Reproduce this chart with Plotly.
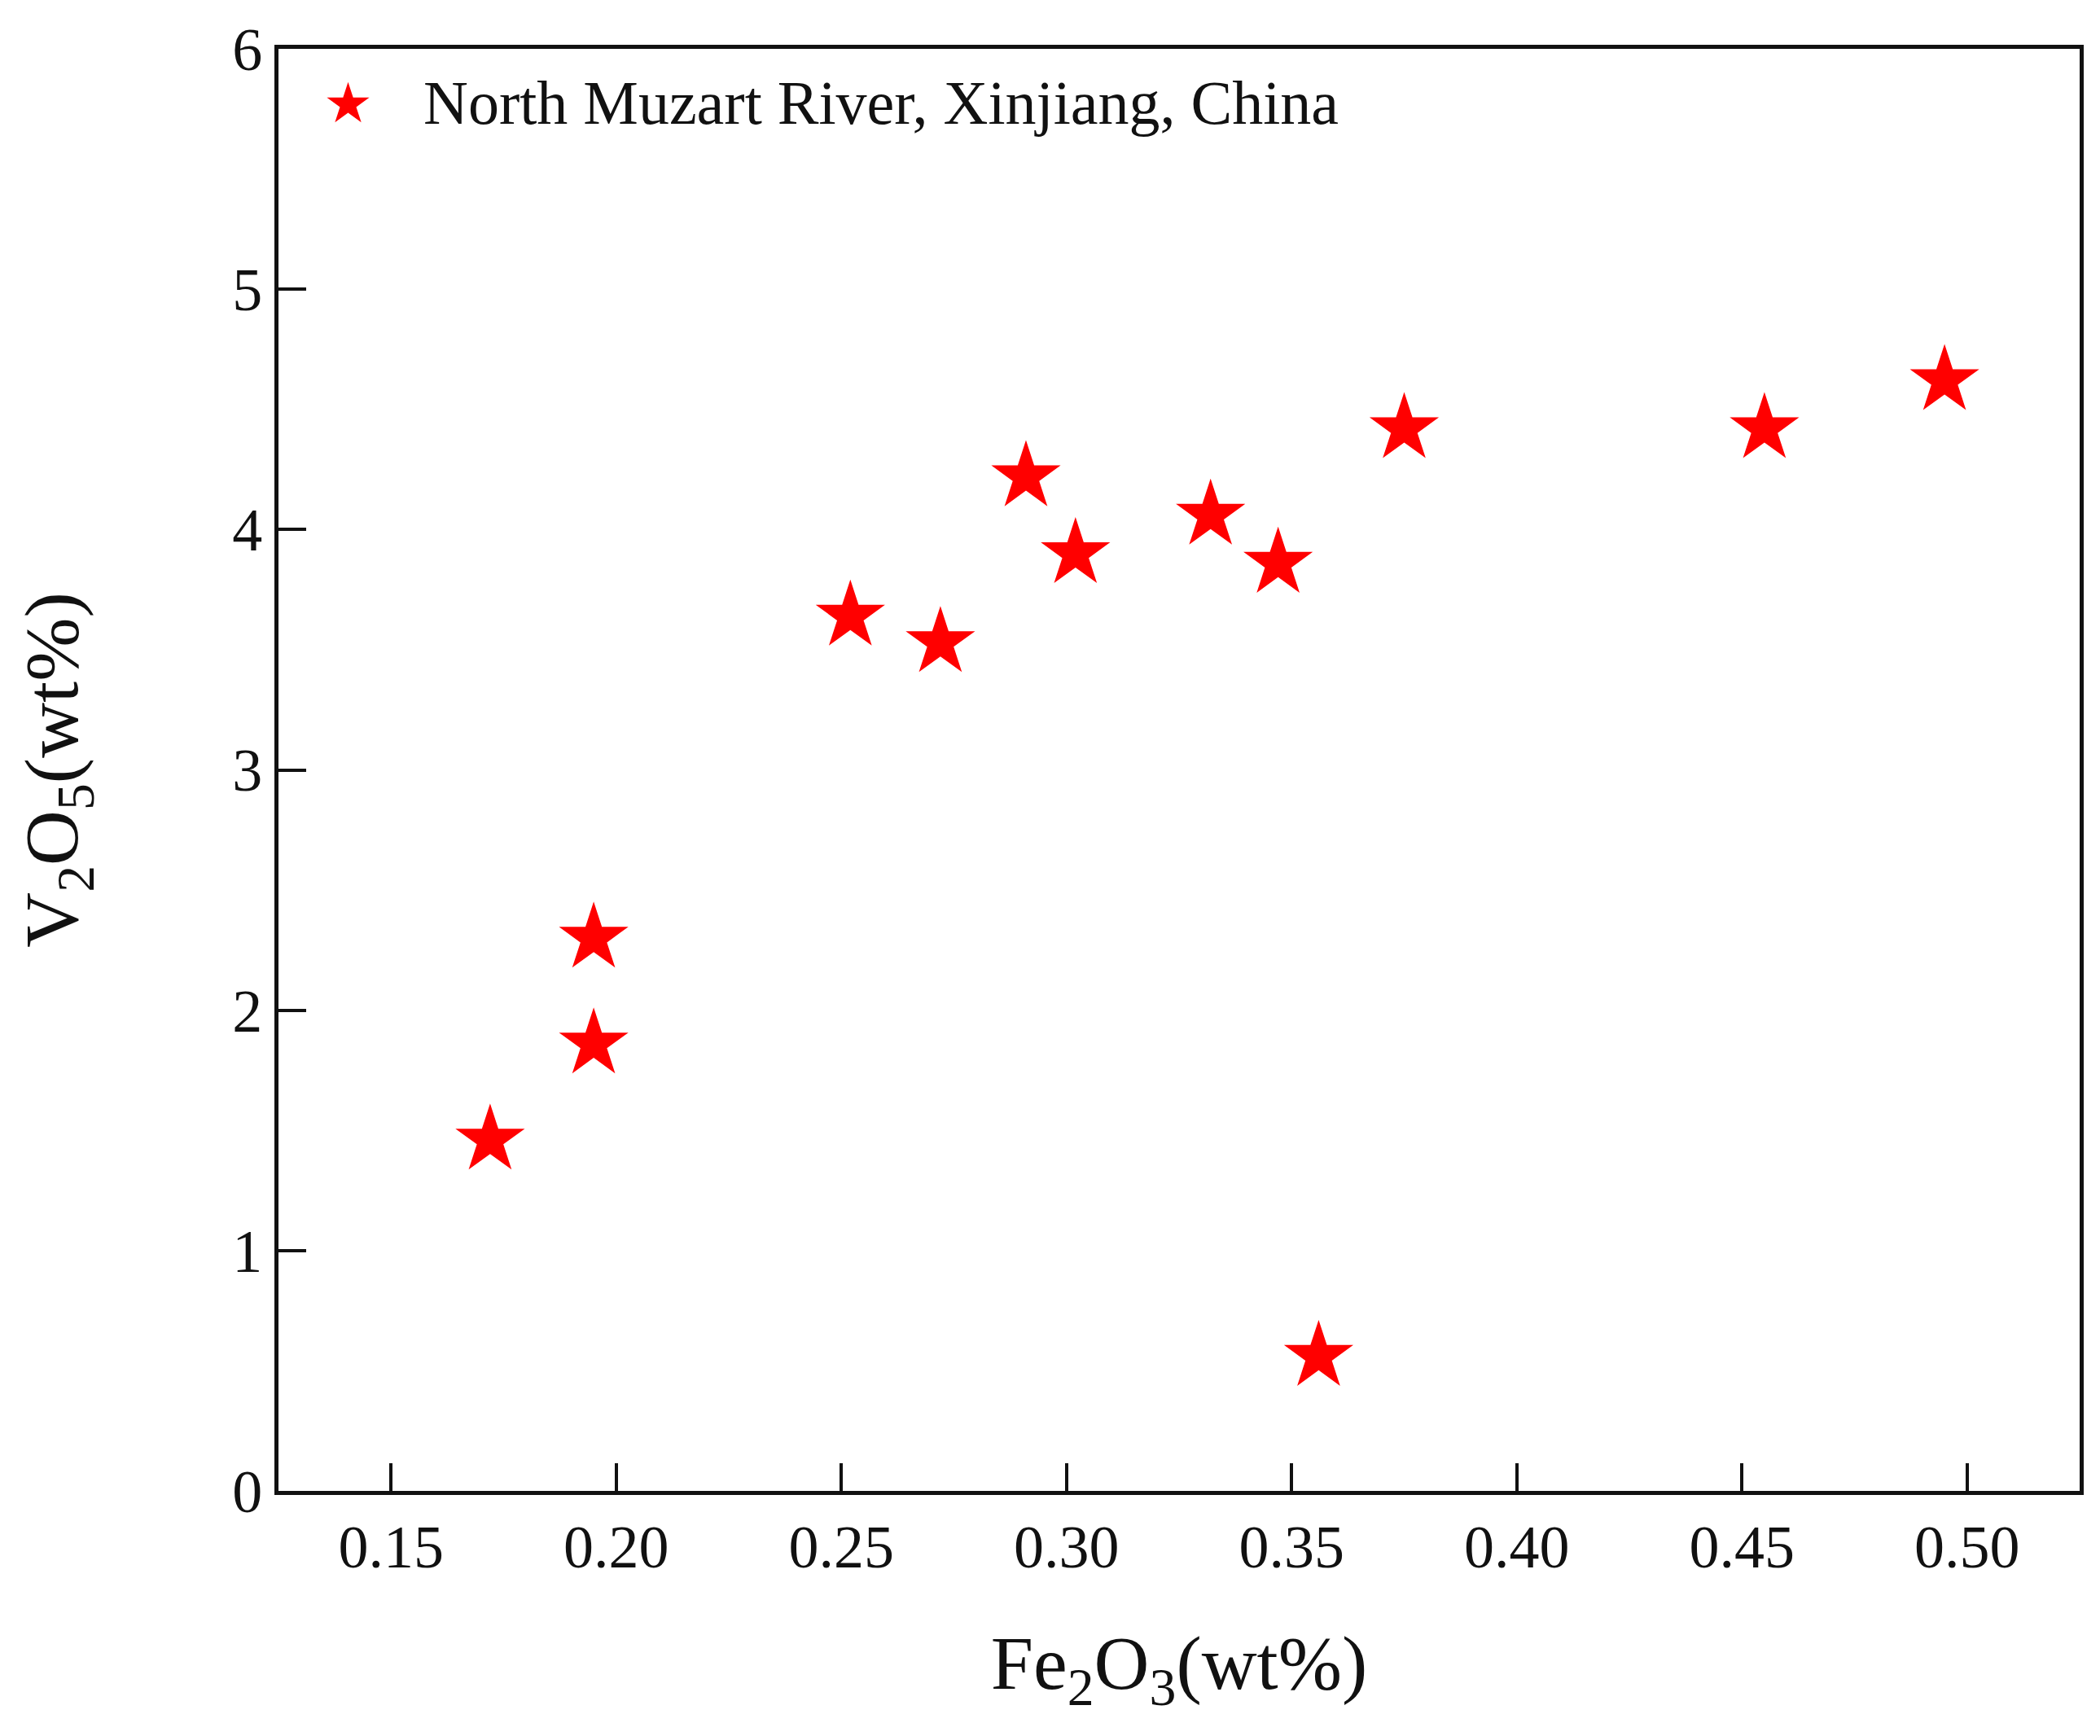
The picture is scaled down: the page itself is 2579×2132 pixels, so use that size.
import plotly.graph_objects as go

# Fe2O3 vs V2O5 (wt%), North Muzart River samples
fe2o3_wt = [0.172, 0.195, 0.195, 0.252, 0.272, 0.291, 0.302, 0.332, 0.347, 0.356, 0.375, 0.455, 0.495]
v2o5_wt = [1.46, 1.86, 2.30, 3.64, 3.53, 4.22, 3.90, 4.06, 3.86, 0.56, 4.42, 4.42, 4.62]

x_ticks = [0.15, 0.20, 0.25, 0.30, 0.35, 0.40, 0.45, 0.50]
y_ticks = [0, 1, 2, 3, 4, 5, 6]

series_name = "North Muzart River, Xinjiang, China"

serif = "Liberation Serif, Times New Roman, serif"

fig = go.Figure()

fig.add_trace(go.Scatter(
    x=fe2o3_wt,
    y=v2o5_wt,
    mode='markers',
    name=series_name,
    marker=dict(symbol='star', size=64, color='#ff0000', line=dict(width=0)),
    showlegend=False,
))

# legend drawn as annotations (plotly caps legend marker size)
fig.add_annotation(
    xref='paper', yref='paper', x=0.0388, y=0.9626,
    xanchor='center', yanchor='middle', showarrow=False,
    text='★', font=dict(family='DejaVu Sans', size=68, color='#ff0000'),
)
fig.add_annotation(
    xref='paper', yref='paper', x=0.0795, y=0.9626,
    xanchor='left', yanchor='middle', showarrow=False,
    text=series_name, font=dict(family=serif, size=76, color='#111111'),
)

axis_style = dict(
    showgrid=False, zeroline=False,
    showline=True, linecolor='#111111', linewidth=5, mirror=True,
    ticks='inside', ticklen=34, tickwidth=4, tickcolor='#111111',
    tickfont=dict(family=serif, size=74, color='#111111'),
    ticklabeloverflow='allow',
)

# page body has an 8px margin, so the figure is a bit smaller than the window
fig.update_layout(
    width=2563, height=2116,
    margin=dict(l=334, r=15, t=44, b=293),
    plot_bgcolor='white', paper_bgcolor='white',
    xaxis=dict(
        range=[0.125, 0.525], tickvals=x_ticks, tickformat='.2f',
        title=dict(text='Fe<sub>2</sub>O<sub>3</sub>(wt%)',
                   font=dict(family=serif, size=94, color='#111111'), standoff=70),
        **axis_style,
    ),
    yaxis=dict(
        range=[0, 6], tickvals=y_ticks,
        title=dict(text='V<sub>2</sub>O<sub>5</sub>(wt%)',
                   font=dict(family=serif, size=94, color='#111111'), standoff=160),
        **axis_style,
    ),
)

fig.write_html("out.html")
